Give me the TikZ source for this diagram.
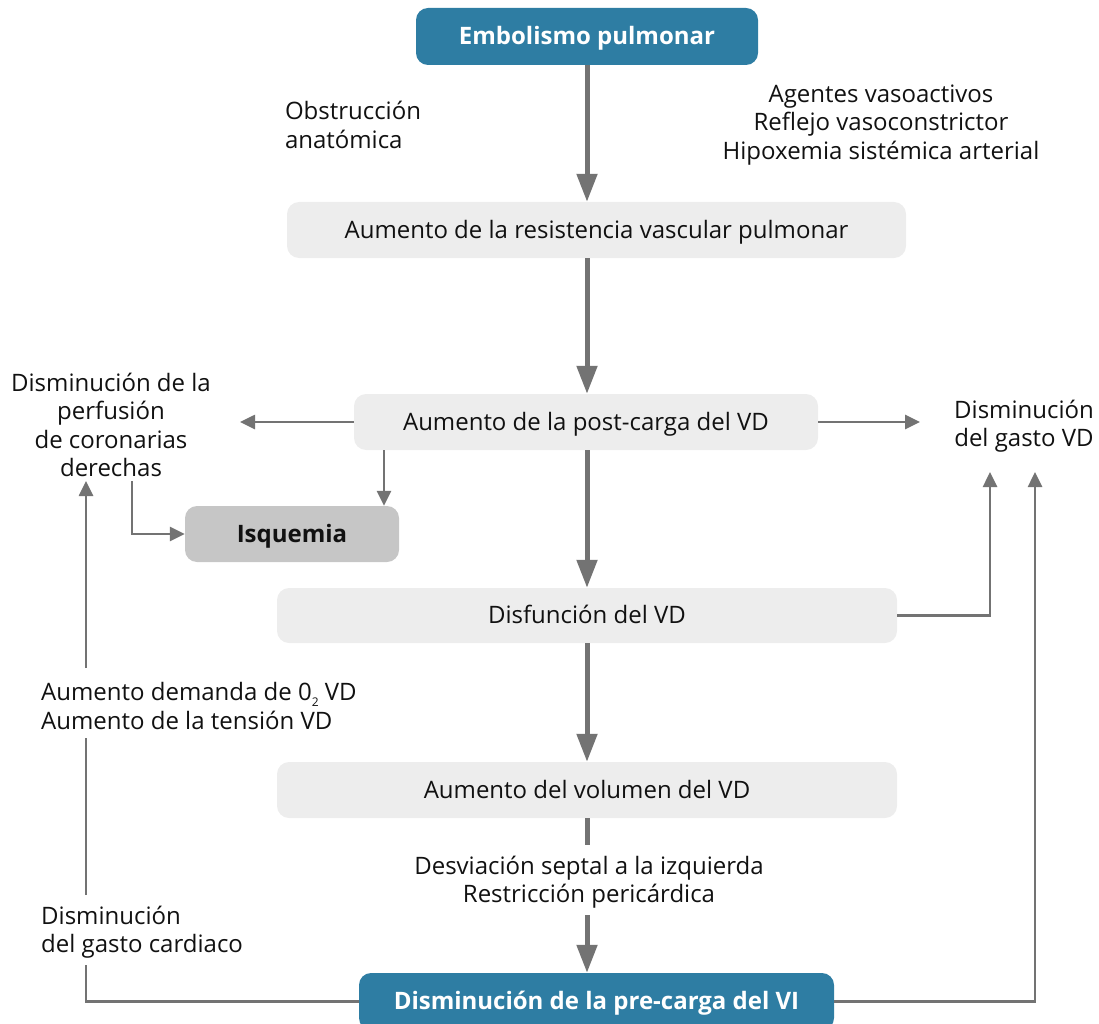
\documentclass[tikz,border=0pt]{standalone}
\usepackage{fontspec}
\setmainfont{Open Sans}
\usetikzlibrary{arrows.meta}
\definecolor{boxblue}{RGB}{46,125,163}
\definecolor{boxlight}{RGB}{237,237,237}
\definecolor{boxgray}{RGB}{198,198,198}
\definecolor{arrgray}{RGB}{115,115,115}
\definecolor{txt}{RGB}{17,17,17}
\newcommand{\fsz}{\fontsize{24}{28.5}\selectfont}
\tikzset{
  base/.style={rounded corners=12pt, inner sep=0pt, align=center, font=\fsz, text=txt, text depth=2pt},
  bluebox/.style={base, fill=boxblue, text=white, font=\fsz\bfseries},
  lightbox/.style={base, fill=boxlight},
  graybox/.style={base, fill=boxgray, font=\fsz\bfseries},
  lbl/.style={inner sep=0pt, font=\fsz, text=txt},
  thickarr/.style={draw=arrgray, line width=5pt, -{Triangle[width=20pt,length=28pt]}},
  thickline/.style={draw=arrgray, line width=5pt},
  thinarr/.style={draw=arrgray, line width=2.6pt, -{Triangle[width=14pt,length=15pt]}},
  thinline/.style={draw=arrgray, line width=2.6pt},
}
\begin{document}
\begin{tikzpicture}[x=1pt,y=-1pt]
\useasboundingbox (0,0) rectangle (1099,1024);
% boxes
\node[bluebox, minimum width=342pt, minimum height=57pt] (emb) at (587,36.5) {Embolismo pulmonar};
\node[lightbox, minimum width=619pt, minimum height=56pt] (res) at (596.5,230) {Aumento de la resistencia vascular pulmonar};
\node[lightbox, minimum width=464pt, minimum height=56pt] (post) at (586,422) {Aumento de la post-carga del VD};
\node[graybox, minimum width=214pt, minimum height=56pt] (isq) at (292,534) {Isquemia};
\node[lightbox, minimum width=620pt, minimum height=55pt] (dis) at (587,615.5) {Disfunción del VD};
\node[lightbox, minimum width=620pt, minimum height=56pt] (vol) at (587,790) {Aumento del volumen del VD};
\node[bluebox, minimum width=475pt, minimum height=57pt] (pre) at (596.5,1001.5) {Disminución de la pre-carga del VI};
% labels
\node[lbl, align=left] (obs) at (353,125) {Obstrucción\\anatómica};
\node[lbl, align=center] (age) at (881,125) {Agentes vasoactivos\\Reflejo vasoconstrictor\\Hipoxemia sistémica arterial};
\node[lbl, align=center] (perf) at (111,425) {Disminución de la\\perfusión\\de coronarias\\derechas};
\node[lbl, align=center] (gvd) at (1024,426) {Disminución\\del gasto VD};
\node[lbl, align=left, anchor=west] (dem) at (41,706) {Aumento demanda de 0\raisebox{-0.45ex}{\fontsize{12}{12}\selectfont 2} VD\\Aumento de la tensión VD};
\node[lbl, align=center] (desv) at (589,882) {Desviación septal a la izquierda\\Restricción pericárdica};
\node[lbl, align=left, anchor=west] (gc) at (41,932) {Disminución\\del gasto cardiaco};
% coordinates
\coordinate (spine) at (587,0);
\coordinate (perfR) at (240,423);
\coordinate (gvL) at (920,423);
\coordinate (xA) at (384,0);
\coordinate (pd) at (132,481);
\coordinate (gv1) at (990,472);
\coordinate (gv2) at (1035,472);
\coordinate (volEnd) at (587,845);
\coordinate (desvStart) at (587,915);
\coordinate (gcBot) at (86,965);
\coordinate (gcTop) at (86,895);
\coordinate (demBot) at (86,738);
\coordinate (demTop) at (86,668);
\coordinate (perfB) at (86,481);
% main spine
\draw[thickarr] (emb.south -| spine) -- (res.north -| spine);
\draw[thickarr] (res.south -| spine) -- (post.north -| spine);
\draw[thickarr] (post.south -| spine) -- (dis.north -| spine);
\draw[thickarr] (dis.south -| spine) -- (vol.north -| spine);
\draw[thickline] (vol.south -| spine) -- (volEnd);
\draw[thickarr] (desvStart) -- (pre.north -| spine);
% side arrows
\draw[thinarr] (post.west) -- (post.west -| perfR);
\draw[thinarr] (post.east) -- (post.east -| gvL);
\draw[thinarr] (post.south -| xA) -- (isq.north -| xA);
\draw[thinarr] (pd) |- (isq.west);
\draw[thinarr] (dis.east) -| (gv1);
\draw[thinarr] (pre.east) -| (gv2);
\draw[thinline] (pre.west) -| (gcBot);
\draw[thinline] (gcTop) -- (demBot);
\draw[thinarr] (demTop) -- (perfB);
\end{tikzpicture}
\end{document}
